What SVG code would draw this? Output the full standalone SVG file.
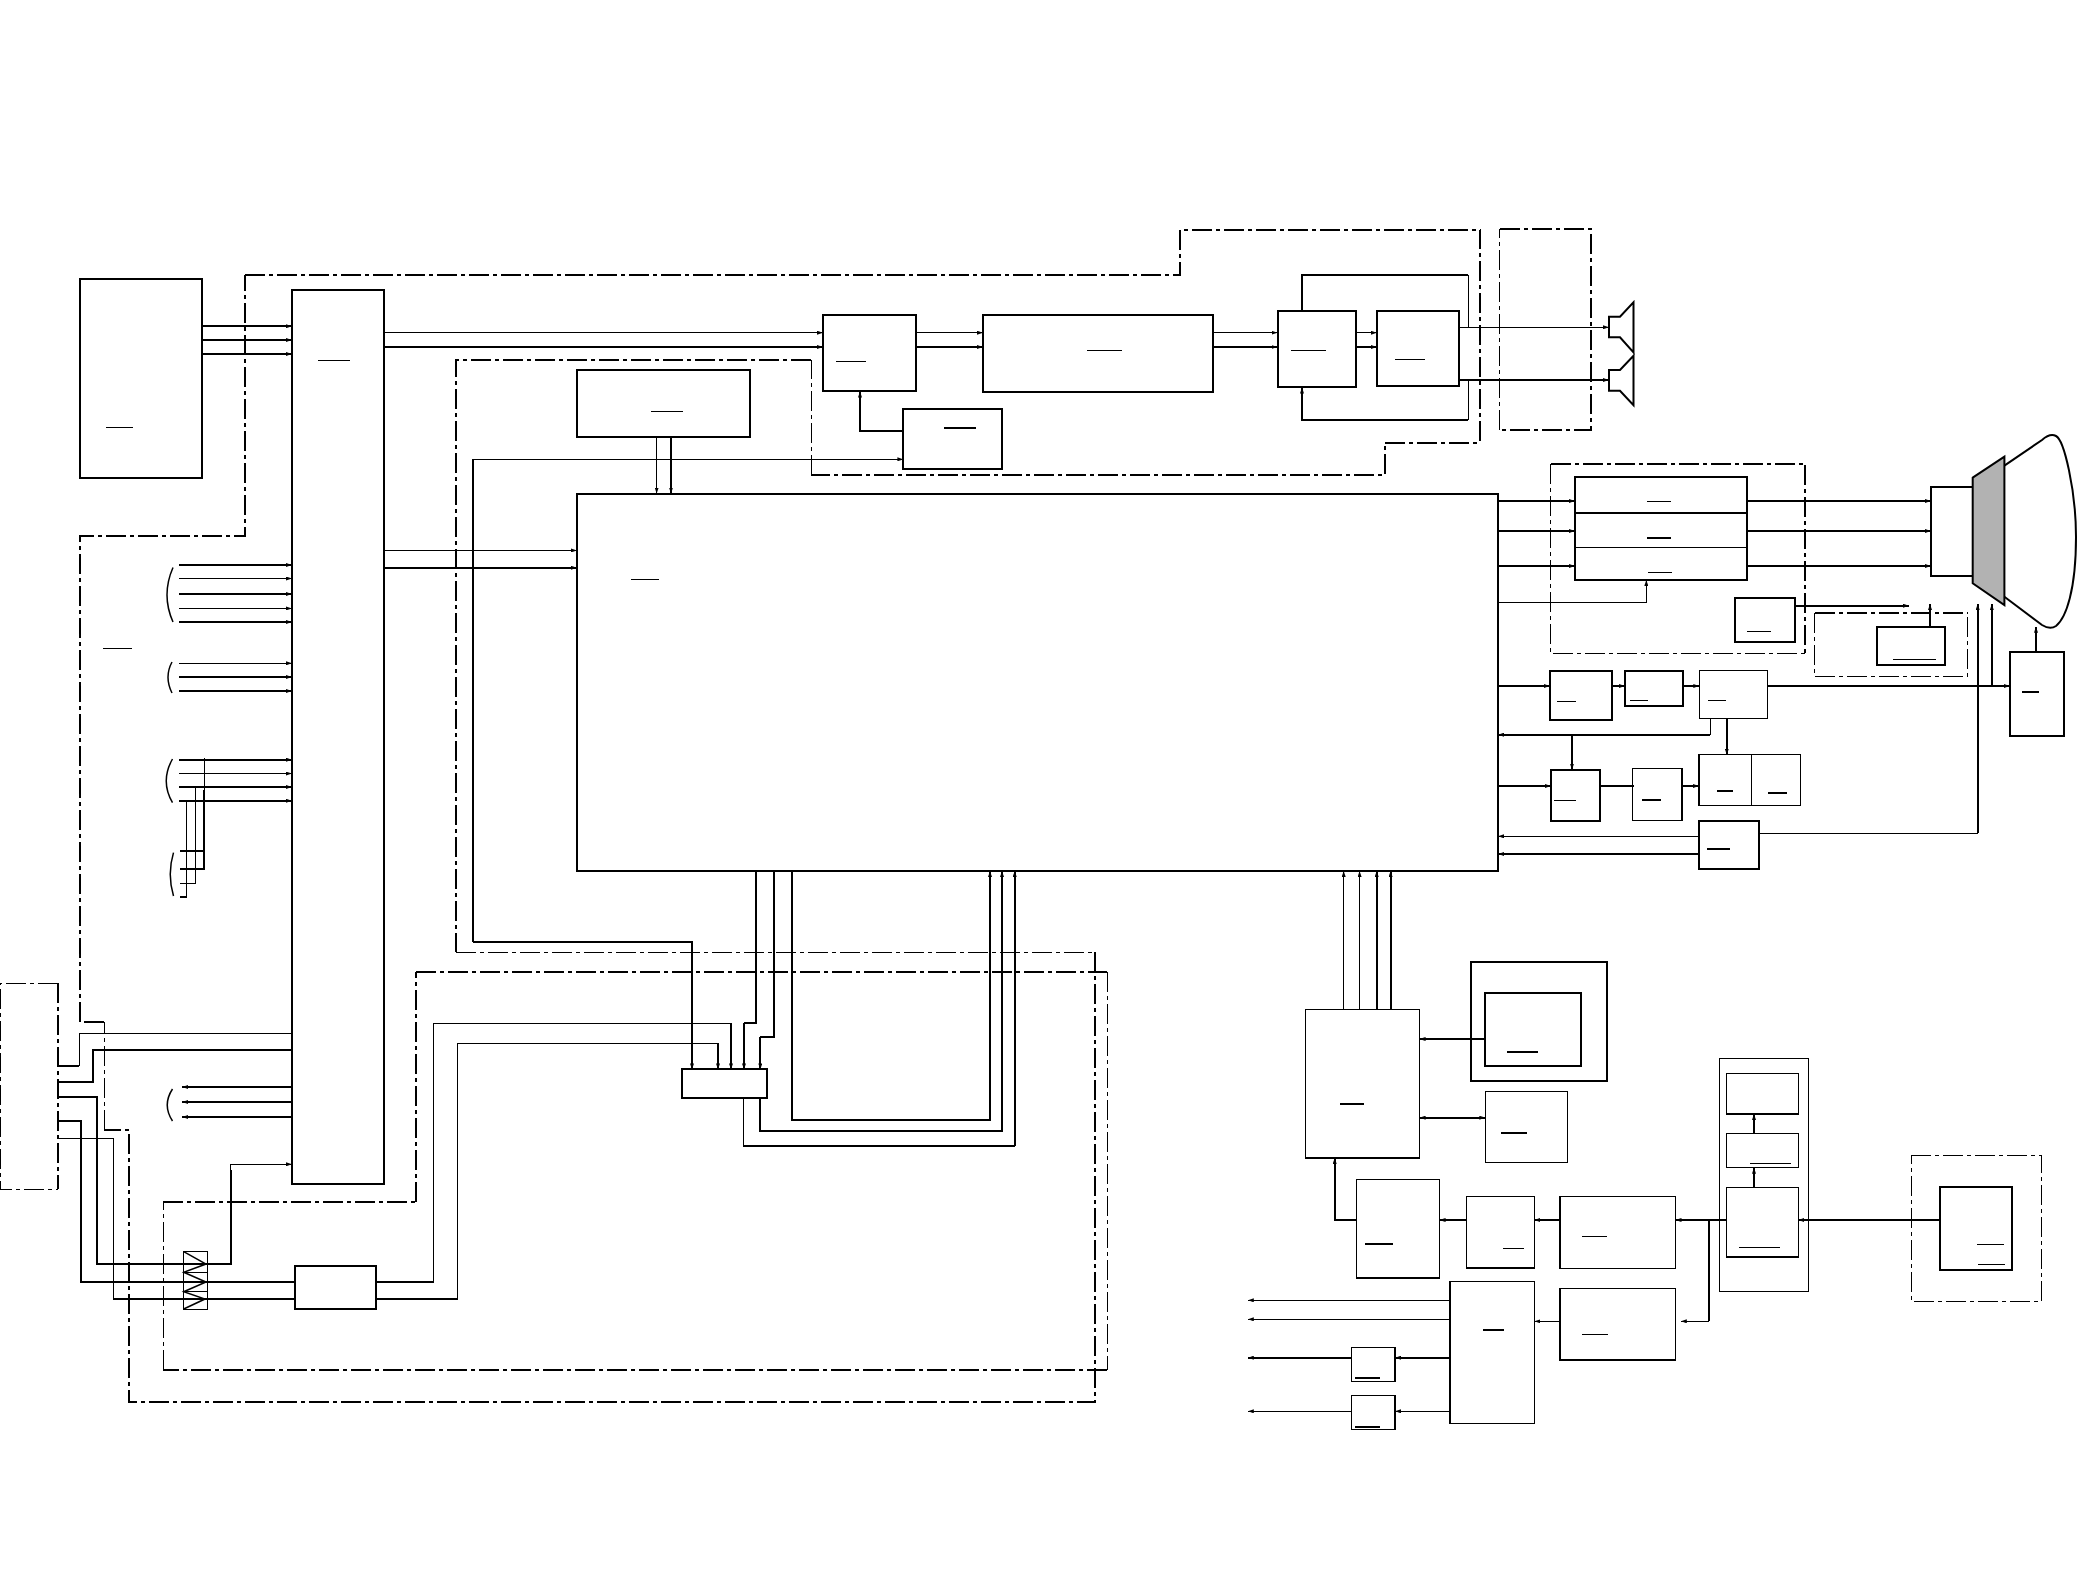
<svg xmlns="http://www.w3.org/2000/svg" width="2078" height="1588" viewBox="0 0 2078 1588">
<style>
rect,path{fill:none;stroke:#000;shape-rendering:crispEdges}
.b{stroke-width:2}
.c{stroke-width:1.5}
.t{stroke-width:1}
.k{stroke-width:2}
.a{marker-end:url(#ah)}
.d2{stroke-width:2;stroke-dasharray:20 4 4 4}
.d15{stroke-width:1.5;stroke-dasharray:20 4 4 4}
.d1{stroke-width:1;stroke-dasharray:20 4 4 4}
.g{fill:#b2b2b2}
.n{stroke-width:1}
.cv{shape-rendering:auto}
</style>
<defs>
<marker id="ah" markerUnits="userSpaceOnUse" markerWidth="6" markerHeight="4" refX="6" refY="2" orient="auto-start-reverse"><path d="M0 0L6 2L0 4z" style="fill:#000;stroke:none;shape-rendering:auto"/></marker>
</defs>
<g id="boundaries">
<path class="d2" d="M245 275H1180V229.7H1480V442.7H1385V475H811"/>
<path class="d1" d="M811 475V360"/>
<path class="d2" d="M811 360H456V952.3"/>
<path class="d1" d="M456 952.3H1095"/>
<path class="d2" d="M1095 952.3V1402H129V1130H104.3"/>
<path class="d1" d="M104.3 1130V1021.7"/>
<path class="d2" d="M104.3 1021.700H80"/>
<path class="d15" d="M80 1021.700V536H245V275"/>
<path class="d2" d="M416 972H1107"/>
<path class="d1" d="M1107 972V1370"/>
<path class="d2" d="M1107 1370H163.400"/>
<path class="d1" d="M163.400 1370V1202"/>
<path class="d2" d="M163.400 1202H416"/>
<path class="d15" d="M416 1202V972"/>
<path class="d1" d="M58 983.3H0V1189.3H58"/>
<path class="d2" d="M58 983.3V1189.3"/>
<path class="d1" d="M1499.700 430V229.3"/>
<path class="d2" d="M1499.700 229.3H1590.700V430H1499.700"/>
<path class="d1" d="M1550.600 463.700V653.300H1805.300"/>
<path class="d2" d="M1550.600 463.700H1805.300V653.300"/>
<path class="d1" d="M1814.500 612.700V676.300H1967.800V612.700"/>
<path class="d2" d="M1814.500 612.700H1967.800"/>
<rect class="d1" x="1911.3" y="1155.3" width="130.4" height="146"/>
</g>
<g id="node-source"><rect class="b" x="79.5" y="278.5" width="122.7" height="199"/><path class="n" d="M106 427.6H133"/></g>
<g id="node-main"><rect class="b" x="292.4" y="289.6" width="91.6" height="894"/><path class="c" d="M318 360.6H350"/></g>
<g id="node-top"><rect class="b" x="576.8" y="369.6" width="173.2" height="67"/><path class="n" d="M651 411H683"/></g>
<g id="node-core"><rect class="b" x="577" y="493.7" width="921" height="377.3"/><path class="n" d="M631 579H659"/></g>
<g id="node-input-label"><path class="n" d="M103 648H132"/></g>
<g id="node-b"><rect class="b" x="823.3" y="315" width="92.2" height="76.3"/><path class="n" d="M836 361H866"/></g>
<g id="node-c"><rect class="b" x="983" y="315" width="230.3" height="76.7"/><path class="n" d="M1087 350.3H1122"/></g>
<g id="node-d"><rect class="b" x="1277.5" y="310.7" width="78.5" height="76.6"/><path class="n" d="M1291 350.3H1326"/></g>
<g id="node-e"><rect class="b" x="1376.8" y="310.7" width="81.7" height="75"/><path class="n" d="M1395 359.3H1425"/></g>
<g id="node-g"><rect class="b" x="903.4" y="408.7" width="98.2" height="60.3"/><path class="k" d="M944 428H976"/></g>
<g id="node-speaker-1"><path class="b cv" d="M1609 316.7H1620L1633.5 302.3V352.3L1620 337.3H1609Z"/></g>
<g id="node-speaker-2"><path class="b cv" d="M1609 370H1620L1633.5 355.7V405.3L1620 390.7H1609Z"/></g>
<g id="node-stack"><rect class="b" x="1575.3" y="477.3" width="171.7" height="102.7"/><path class="k" d="M1575.3 513H1747"/><path class="t" d="M1575.3 547.3H1747"/><path class="n" d="M1647 501H1671"/><path class="k" d="M1647 537.7H1671"/><path class="n" d="M1648 572.3H1672"/></g>
<g id="node-neck"><rect class="b" x="1931" y="486.7" width="41.7" height="89"/></g>
<g id="node-tube"><path class="b g cv" d="M1972.7 477.7L2004.4 456.7V605L1972.7 583.3Z"/><path class="b cv" d="M2004.4 465.7L2042 440Q2050 433 2056 436C2064 440 2076 490 2076 537C2076 590 2066 618 2056 626Q2050 630 2042 625L2004.4 596.7"/></g>
<g id="node-i"><rect class="b" x="1734.8" y="597.7" width="60.6" height="44.3"/><path class="n" d="M1747 631.3H1771"/></g>
<g id="node-k"><rect class="b" x="1877.4" y="626.7" width="67.9" height="38.6"/><path class="n" d="M1893 659.3H1936"/></g>
<g id="node-l"><rect class="b" x="1549.8" y="670.7" width="62.5" height="49.3"/><path class="n" d="M1557 701.3H1576"/></g>
<g id="node-m"><rect class="b" x="1625" y="670.7" width="57.5" height="35.3"/><path class="n" d="M1630 700.3H1648"/></g>
<g id="node-n"><rect class="t" x="1699.3" y="670.3" width="68.3" height="48"/><path class="n" d="M1708 700.3H1726"/></g>
<g id="node-o"><rect class="b" x="2009.7" y="651.7" width="54.6" height="84.3"/><path class="k" d="M2022 692H2039"/></g>
<g id="node-p"><rect class="b" x="1551" y="769.7" width="49" height="51.6"/><path class="n" d="M1554 800H1576"/></g>
<g id="node-q"><rect class="c" x="1632.6" y="768.7" width="49.4" height="51.6"/><path class="k" d="M1642 799.7H1661"/></g>
<g id="node-r"><rect class="c" x="1699" y="754.7" width="101.4" height="50.6"/><path class="t" d="M1751.5 754.7V805.3"/><path class="k" d="M1716.5 790.7H1733M1768 792.7H1787"/></g>
<g id="node-s"><rect class="b" x="1699" y="821" width="60" height="47.7"/><path class="k" d="M1707 848.7H1730"/></g>
<g id="node-t"><rect class="c" x="1305.7" y="1009.3" width="113.9" height="148.7"/><path class="k" d="M1340 1103.7H1363.7"/></g>
<g id="node-u"><rect class="b" x="1471.4" y="961.7" width="135.9" height="119.3"/><rect class="b" x="1485.3" y="992.7" width="95.9" height="73.3"/><path class="k" d="M1507 1052H1537.6"/></g>
<g id="node-v"><rect class="c" x="1485.3" y="1091.7" width="82" height="70.6"/><path class="k" d="M1500.8 1132.7H1526.5"/></g>
<g id="node-w"><rect class="c" x="1356.7" y="1179.3" width="82.9" height="98.7"/><path class="k" d="M1365 1243.7H1393"/></g>
<g id="node-x"><rect class="c" x="1466.5" y="1196.7" width="67.8" height="71.3"/><path class="c" d="M1503 1248.3H1524"/></g>
<g id="node-y"><rect class="c" x="1560" y="1196.7" width="115.5" height="71.6"/><path class="c" d="M1582 1236.3H1607"/></g>
<g id="node-aa"><rect class="c" x="1560" y="1288.7" width="115.5" height="71.3"/><path class="c" d="M1582 1334.7H1608"/></g>
<g id="node-ab"><rect class="c" x="1449.8" y="1281.3" width="84.5" height="142.4"/><path class="c" d="M1483 1330H1504"/></g>
<g id="node-ac"><rect class="c" x="1351.4" y="1347.7" width="43.6" height="33.6"/><path class="c" d="M1354.7 1378H1380.4"/></g>
<g id="node-ad"><rect class="c" x="1351.4" y="1395.7" width="43.6" height="33.6"/><path class="k" d="M1354.7 1426.7H1380.4"/></g>
<g id="node-z"><rect class="c" x="1719.3" y="1058.7" width="89" height="232.6"/></g>
<g id="node-za"><rect class="c" x="1726.3" y="1073.3" width="72" height="40.7"/></g>
<g id="node-zb"><rect class="c" x="1726.3" y="1133.3" width="72" height="34.4"/><path class="n" d="M1750 1163.3H1790.7"/></g>
<g id="node-zc"><rect class="c" x="1726.3" y="1187.7" width="72" height="69.3"/><path class="n" d="M1739.3 1247.3H1780"/></g>
<g id="node-e2"><rect class="b" x="1939.7" y="1186.7" width="72.6" height="83.3"/><path class="n" d="M1977 1244H2004M1978 1264.3H2005"/></g>
<g id="node-mux"><rect class="b" x="681.7" y="1069.4" width="85" height="28.6"/></g>
<g id="node-filter"><rect class="b" x="294.7" y="1266" width="81" height="43.3"/></g>
<g id="node-zigzag"><rect class="t" x="183.7" y="1251.7" width="24" height="57.6"/><path class="t" d="M183.7 1272.3H207.7M183.7 1291.7H207.7"/><path class="c cv" d="M183.7 1251.7L206 1264L183.7 1272.3L206 1282L183.7 1291.7L205 1299L183.7 1309"/></g>
<g id="connectors">
<path class="k a" d="M202 326.2H292"/><path class="c a" d="M202 340H292"/><path class="c a" d="M202 354H292"/>
<path class="t a" d="M384 332.7H823"/><path class="k a" d="M384 347H823"/>
<path class="c a" d="M915.5 332.7H983"/><path class="k a" d="M915.5 347H983"/>
<path class="c a" d="M1213.3 332.7H1277.5"/><path class="k a" d="M1213.3 347H1277.5"/>
<path class="c a" d="M1356 332.7H1376.8"/><path class="k a" d="M1356 347H1376.8"/>
<path class="c" d="M1302 310.7V275H1468"/><path class="t" d="M1468 275V327.3"/>
<path class="t" d="M1468 380V420"/><path class="c a" d="M1468 420H1302V387.5"/>
<path class="t a" d="M1458.5 327.3H1609"/><path class="k a" d="M1458.5 380H1609"/>
<path class="k a" d="M903.4 431H860V391.5"/>
<path class="t a" d="M472.8 459.3H903.4"/><path class="k" d="M472.8 942V459.3"/>
<path class="c a" d="M656.7 436.5V493.5"/><path class="c a" d="M671 436.5V493.5"/>
<path class="t a" d="M384 550.4H577"/><path class="k a" d="M384 567.8H577"/>
<path class="c a" d="M178.6 565H292"/><path class="c a" d="M178.6 578.5H292"/><path class="k a" d="M178.6 594H292"/><path class="t a" d="M178.6 608.4H292"/><path class="c a" d="M178.6 622H292"/>
<path class="c a" d="M178.6 663.3H292"/><path class="k a" d="M178.6 677H292"/><path class="k a" d="M178.6 691H292"/>
<path class="k a" d="M178.6 759.7H292"/><path class="t a" d="M178.6 773.6H292"/><path class="c a" d="M178.6 787H292"/><path class="k a" d="M178.6 800.8H292"/>
<path class="t" d="M204 758V790"/><path class="k" d="M204 790V869H180M204 850.8H180"/><path class="t" d="M195.5 785.6V883H180"/><path class="t" d="M186.6 799.5V896.8"/><path class="k" d="M186.6 896.8H180"/>
<path class="c cv" d="M173 567.5Q161 595 173 622M172 662Q164 677 172 693M172.5 759Q160 781 172.5 802.6M173.5 852.6Q167 874 173.5 896"/>
<path class="c cv" d="M172.5 1089Q162 1105 172.5 1121"/>
<path class="k a" d="M292 1087H182.3"/><path class="k a" d="M292 1102H182.3"/><path class="k a" d="M292 1117H182.3"/>
<path class="t" d="M292 1033.3H79V1066"/><path class="k" d="M79 1066H58"/>
<path class="k" d="M292 1050H92.7V1082H58"/>
<path class="k" d="M58 1097.3H97V1264H230.7V1170"/><path class="t a" d="M230.7 1170V1164.3H292"/>
<path class="k" d="M58 1121H81V1281.7H294.7"/>
<path class="t" d="M58 1138.7H113.3V1299"/><path class="k" d="M113.3 1299H294.7"/>
<path class="k" d="M375.7 1281.7H433.5"/><path class="t" d="M433.5 1281.7V1023.3H731"/><path class="k a" d="M731 1023.3V1069.4"/>
<path class="k" d="M375.7 1299H457.6"/><path class="t" d="M457.6 1299V1043.3H718"/><path class="k a" d="M718 1043.3V1069.4"/>
<path class="k a" d="M472.8 942H692V1069.4"/>
<path class="k" d="M756 871V1023H744"/><path class="k a" d="M744 1023V1069.4"/>
<path class="k" d="M774 871V1036.7H760.3"/><path class="k a" d="M760.3 1036.7V1069.4"/>
<path class="k a" d="M792 871V1119.7H990V871"/>
<path class="k a" d="M760 1098V1131H1002V871"/>
<path class="t" d="M743.3 1098V1145.5"/><path class="k" d="M743.3 1145.5H1014.7"/><path class="k a" d="M1014.7 1145.5V871"/>
<path class="k a" d="M1498 501H1575"/><path class="k a" d="M1498 531H1575"/><path class="k a" d="M1498 566H1575"/>
<path class="k a" d="M1747 501H1931"/><path class="k a" d="M1747 531H1931"/><path class="k a" d="M1747 566H1931"/>
<path class="c a" d="M1498 602.3H1646.3V580"/>
<path class="k a" d="M1795.4 605.7H1909"/>
<path class="k a" d="M1930 626.7V604"/>
<path class="k a" d="M1498 686H1549.8"/><path class="k a" d="M1612.3 686H1625"/><path class="k a" d="M1682.5 686H1699.3"/>
<path class="k a" d="M1767.6 686H2009.7"/>
<path class="k a" d="M1991.8 686V604"/>
<path class="c" d="M1759 833.3H1977.7"/><path class="k a" d="M1977.7 833.3V604"/>
<path class="k a" d="M2036 651.7V626.7"/>
<path class="t" d="M1710.4 718.3V734.7"/><path class="k a" d="M1710.4 734.7H1498"/>
<path class="k a" d="M1726.8 718.3V754.7"/><path class="k a" d="M1572 734.7V769.7"/>
<path class="k a" d="M1498 786H1551"/><path class="k" d="M1600 786H1634"/><path class="k a" d="M1682 786H1699"/>
<path class="t a" d="M1699 836.3H1498"/><path class="k a" d="M1699 854H1498"/>
<path class="c a" d="M1343.7 1009.3V871"/><path class="t a" d="M1359.6 1009.3V871"/><path class="k a" d="M1376.7 1009.3V871"/><path class="k a" d="M1390.6 1009.3V871"/>
<path class="k a" d="M1485.3 1039H1419.6"/>
<path class="k a" style="marker-start:url(#ah)" d="M1419.6 1117.7H1485.3"/>
<path class="k a" d="M1356.7 1220H1334.7V1158"/>
<path class="k a" d="M1466.5 1220H1439.6"/><path class="k a" d="M1560 1220H1534.3"/>
<path class="k a" d="M1726.3 1220H1675.5"/>
<path class="k" d="M1709 1220V1321.3"/><path class="c a" d="M1709 1321.3H1680.8"/>
<path class="c a" d="M1560 1321.3H1534.3"/>
<path class="c a" d="M1449.8 1300.3H1247.8"/><path class="c a" d="M1449.8 1319.3H1247.8"/>
<path class="k a" d="M1449.8 1357.7H1395"/><path class="k a" d="M1351.4 1357.7H1247.8"/>
<path class="c a" d="M1449.8 1411.3H1395"/><path class="c a" d="M1351.4 1411.3H1247.8"/>
<path class="k a" d="M1754 1187.7V1167.7"/><path class="k a" d="M1754 1133.3V1114"/>
<path class="k a" d="M1939.7 1220H1798.3"/>
</g>
</svg>
